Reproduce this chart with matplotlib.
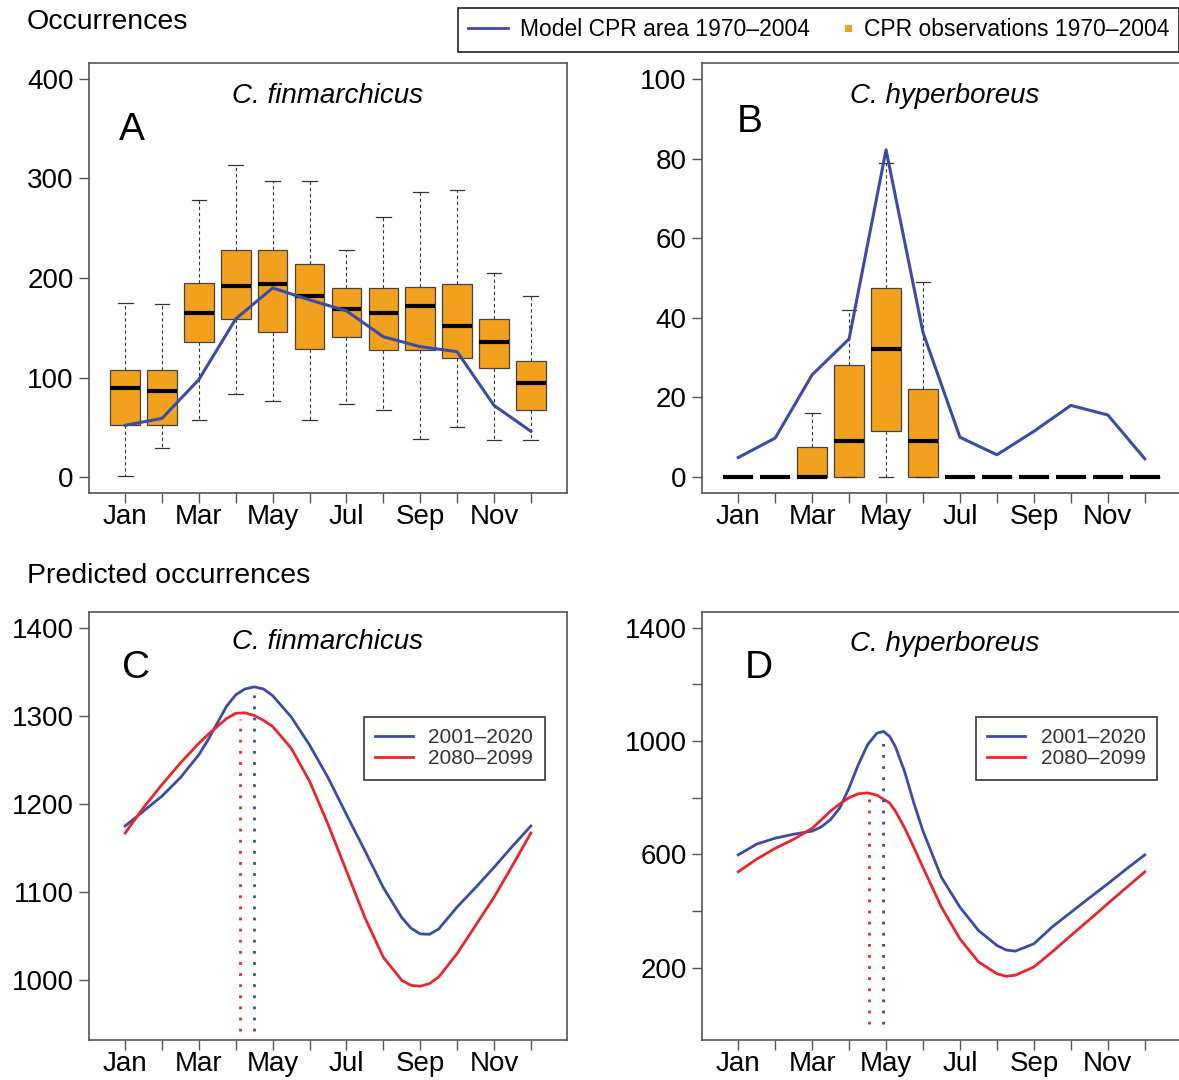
import matplotlib
matplotlib.use('Agg')
import matplotlib.pyplot as plt
from matplotlib.lines import Line2D
from matplotlib.patches import Rectangle
from matplotlib.legend_handler import HandlerBase

plt.rcParams['font.family'] = ['Liberation Sans', 'DejaVu Sans']

# --- data --- #
months = [1, 2, 3, 4, 5, 6, 7, 8, 9, 10, 11, 12]
month_labels = ['Jan', '', 'Mar', '', 'May', '', 'Jul', '', 'Sep', '', 'Nov', '']

# panel A : C. finmarchicus, CPR observations (box stats) + model line
fin_whislo = [1, 29, 57, 83, 76, 57, 73, 67, 38, 50, 37, 37]
fin_q1     = [52, 52, 136, 159, 146, 129, 141, 128, 128, 120, 110, 67]
fin_med    = [89, 86, 165, 192, 194, 182, 169, 165, 172, 152, 136, 95]
fin_q3     = [108, 108, 195, 228, 228, 214, 190, 190, 191, 194, 159, 117]
fin_whishi = [175, 174, 278, 314, 297, 297, 228, 261, 286, 288, 205, 182]
fin_model  = [52, 59, 98, 159, 190, 178, 167, 141, 131, 126, 72, 46]

# panel B : C. hyperboreus
hyp_whislo = [0, 0, 0, 0, 0, 0, 0, 0, 0, 0, 0, 0]
hyp_q1     = [0, 0, 0, 0, 11.5, 0, 0, 0, 0, 0, 0, 0]
hyp_med    = [0, 0, 0, 9.1, 32.1, 9.1, 0, 0, 0, 0, 0, 0]
hyp_q3     = [0, 0, 7.6, 28.2, 47.5, 22.1, 0, 0, 0, 0, 0, 0]
hyp_whishi = [0, 0, 16.1, 42, 79, 49, 0, 0, 0, 0, 0, 0]
hyp_model  = [4.9, 9.8, 25.7, 34.7, 82.2, 36.3, 10, 5.6, 11.5, 18, 15.6, 4.6]

# panel C : predicted C. finmarchicus
c_x      = [1, 1.5, 2, 2.5, 3, 3.25, 3.5, 3.75, 4, 4.25, 4.5, 4.75, 5, 5.5, 6, 6.5, 7, 7.5,
            8, 8.5, 8.75, 9, 9.25, 9.5, 10, 10.5, 11, 11.5, 12]
c_2001   = [1175, 1192, 1209, 1230, 1256, 1273, 1292, 1311, 1324, 1330.6, 1333, 1330.6, 1323, 1299,
            1267, 1230, 1188, 1147, 1105, 1071, 1059, 1052.5, 1052, 1058, 1083, 1105, 1128, 1152, 1175]
c_2080   = [1167, 1196, 1222, 1246.6, 1269, 1279, 1288, 1297, 1303, 1303.5, 1300.5, 1295, 1288, 1263.5,
            1226, 1177, 1124, 1071, 1026, 999.8, 994, 993, 996, 1003.5, 1030, 1062, 1094, 1130, 1167]
c_peak_x = [4.5, 4.11]
c_peak_y = [1324, 1297]

# panel D : predicted C. hyperboreus
d_x      = [1, 1.5, 2, 2.5, 3, 3.25, 3.5, 3.75, 4, 4.25, 4.5, 4.75, 4.93, 5.1, 5.25, 5.5, 5.75,
            6, 6.5, 7, 7.5, 8, 8.25, 8.5, 9, 9.5, 10, 10.5, 11, 11.5, 12]
d_2001   = [598, 636, 657, 671, 682, 697, 723, 764, 835, 917, 987, 1028, 1034, 1016, 981, 893, 782,
            682, 518, 413, 331, 278, 262, 258, 284, 344, 395, 446, 496, 548, 598]
d_2080   = [538, 583, 621, 653, 692, 722, 753, 778, 800, 814, 817, 809, 795, 781, 753, 694, 625,
            553, 413, 301, 220, 178, 169, 173, 202, 256, 313, 369, 426, 482, 538]
d_peak_x = [4.93, 4.53]
d_peak_y = [993, 800]

orange = '#f2a11f'
blue = '#3a4ca6'
red = '#e8262b'
W, H = 1179., 1080.

fig = plt.figure(figsize=(11.79, 10.8), dpi=100)

def px_axes(l, r, t, b):
    return fig.add_axes([l / W, 1 - b / H, (r - l) / W, (b - t) / H])

def style(ax, yticks, ylabels, ylim):
    for s in ax.spines.values():
        s.set_color('#555555')
        s.set_linewidth(1.2)
    ax.tick_params(direction='out', length=7, width=1, color='#555555', labelsize=20)
    ax.tick_params(axis='x', pad=1)
    ax.tick_params(axis='y', pad=4)
    ax.set_xticks(months)
    ax.set_xticklabels(month_labels)
    ax.set_xlim(0.02, 12.98)
    ax.set_yticks(yticks)
    ax.set_yticklabels(ylabels)
    ax.set_ylim(*ylim)

def boxes(ax, lo, q1, med, q3, hi):
    stats = [dict(whislo=a, q1=b, med=c, q3=d, whishi=e, fliers=[])
             for a, b, c, d, e in zip(lo, q1, med, q3, hi)]
    ax.bxp(stats, positions=months, widths=0.8, capwidths=0.4, patch_artist=True,
           showfliers=False, manage_ticks=False,
           boxprops=dict(facecolor=orange, edgecolor='#444444', linewidth=0.9),
           medianprops=dict(color='black', linewidth=3, solid_capstyle='butt'),
           whiskerprops=dict(color='#333333', linewidth=0.8, linestyle=(0, (3, 2.5))),
           capprops=dict(color='#333333', linewidth=0.9))

# --- A --- #
axA = px_axes(89, 567, 63, 493)
boxes(axA, fin_whislo, fin_q1, fin_med, fin_q3, fin_whishi)
axA.plot(months, fin_model, color=blue, lw=2.2, zorder=5)
style(axA, [0, 100, 200, 300, 400], ['0', '100', '200', '300', '400'], (-16, 416))
axA.text(0.5, 0.923, 'C. finmarchicus', style='italic', fontsize=20, ha='center', va='center', transform=axA.transAxes)
axA.text(0.063, 0.845, 'A', fontsize=28, ha='left', va='center', transform=axA.transAxes)

# --- B --- #
axB = px_axes(702, 1181, 63, 493)
boxes(axB, hyp_whislo, hyp_q1, hyp_med, hyp_q3, hyp_whishi)
axB.plot(months, hyp_model, color=blue, lw=2.2, zorder=5)
style(axB, [0, 20, 40, 60, 80, 100], ['0', '20', '40', '60', '80', '100'], (-4, 104))
axB.text(0.507, 0.923, 'C. hyperboreus', style='italic', fontsize=20, ha='center', va='center', transform=axB.transAxes)
axB.text(0.072, 0.863, 'B', fontsize=28, ha='left', va='center', transform=axB.transAxes)

# --- C --- #
axC = px_axes(89, 567, 612, 1040)
axC.plot(c_x, c_2001, color=blue, lw=2, label='2001\u20132020', solid_joinstyle='round')
axC.plot(c_x, c_2080, color=red, lw=2, label='2080\u20132099', solid_joinstyle='round')
axC.vlines(c_peak_x, 942, c_peak_y, colors=[blue, red], linestyles=[(0, (1, 3))], lw=2)
style(axC, [1000, 1100, 1200, 1300, 1400], ['1000', '1100', '1200', '1300', '1400'], (932, 1418))
axC.text(0.5, 0.93, 'C. finmarchicus', style='italic', fontsize=20, ha='center', va='center', transform=axC.transAxes)
axC.text(0.068, 0.869, 'C', fontsize=28, ha='left', va='center', transform=axC.transAxes)

# --- D --- #
axD = px_axes(702, 1181, 612, 1040)
axD.plot(d_x, d_2001, color=blue, lw=2, label='2001\u20132020', solid_joinstyle='round')
axD.plot(d_x, d_2080, color=red, lw=2, label='2080\u20132099', solid_joinstyle='round')
axD.vlines(d_peak_x, 0, d_peak_y, colors=[blue, red], linestyles=[(0, (1, 3))], lw=2)
style(axD, [200, 400, 600, 800, 1000, 1200, 1400], ['200', '', '600', '', '1000', '', '1400'], (-56, 1456))
axD.text(0.507, 0.925, 'C. hyperboreus', style='italic', fontsize=20, ha='center', va='center', transform=axD.transAxes)
axD.text(0.09, 0.869, 'D', fontsize=28, ha='left', va='center', transform=axD.transAxes)

for ax, x0 in [(axC, 0.575), (axD, 0.572)]:
    leg = ax.legend(loc='upper left', bbox_to_anchor=(x0, 0.755), fontsize=15, handlelength=1.8,
                    handletextpad=0.75, labelspacing=0.1, borderpad=0.55, borderaxespad=0,
                    fancybox=False, edgecolor='#444444', framealpha=1)
    leg.get_frame().set_linewidth(1.3)
    for t in leg.get_texts():
        t.set_color('#333333')

# --- top legend --- #
class SquareHandler(HandlerBase):
    def create_artists(self, legend, orig_handle, xdescent, ydescent, width, height, fontsize, trans):
        s = 5.0
        r = Rectangle((width - xdescent - s, (height - ydescent) / 2 - s / 2), s, s,
                      facecolor=orig_handle.get_facecolor(), edgecolor='none', transform=trans)
        return [r]

ln = Line2D([], [], color=blue, lw=2)
sq = Rectangle((0, 0), 1, 1, facecolor=orange)
top = fig.legend(handles=[ln, sq], labels=['Model CPR area 1970\u20132004', 'CPR observations 1970\u20132004'],
                 handler_map={sq: SquareHandler()}, loc='upper left', bbox_to_anchor=(458 / W, 1 - 8 / H),
                 ncol=2, fontsize=16.5, handlelength=1.75, handletextpad=0.5, columnspacing=0.1,
                 borderpad=0.45, borderaxespad=0, fancybox=False, edgecolor='#222222', framealpha=1)
top.get_frame().set_linewidth(1.2)

fig.text(27 / W, 1 - 22 / H, 'Occurrences', fontsize=20.5, ha='left', va='center')
fig.text(27 / W, 1 - 576 / H, 'Predicted occurrences', fontsize=20.5, ha='left', va='center')

fig.savefig('out.png', dpi=100)
